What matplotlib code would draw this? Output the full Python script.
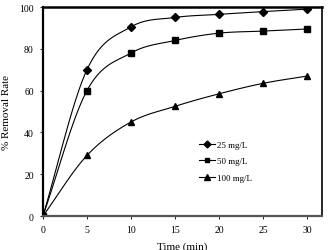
import numpy as np
import matplotlib.pyplot as plt

plt.rcParams['font.family'] = ['Liberation Serif', 'DejaVu Serif']

time_min = [0, 5, 10, 15, 20, 25, 30]
rate_25 = [0, 70, 90.5, 95, 96.5, 97.8, 99]
rate_50 = [0, 60, 78, 84, 87.5, 88.5, 89.5]
rate_100 = [0, 29, 45, 52.5, 58.5, 63.5, 67]
labels = ['25 mg/L', '50 mg/L', '100 mg/L']
markers = ['D', 's', '^']
msizes = [4.5, 4.5, 5]


def smooth(x, y, n=20):
    # catmull-rom style curve through the points (like excel smoothed line)
    x = np.asarray(x, float)
    y = np.asarray(y, float)
    px = np.concatenate([[2 * x[0] - x[1]], x, [2 * x[-1] - x[-2]]])
    py = np.concatenate([[2 * y[0] - y[1]], y, [2 * y[-1] - y[-2]]])
    xs, ys = [], []
    t = np.linspace(0, 1, n)
    for i in range(1, len(px) - 2):
        for p, out in ((px, xs), (py, ys)):
            p0, p1, p2, p3 = p[i - 1], p[i], p[i + 1], p[i + 2]
            out.extend(0.5 * ((2 * p1) + (-p0 + p2) * t
                              + (2 * p0 - 5 * p1 + 4 * p2 - p3) * t ** 2
                              + (-p0 + 3 * p1 - 3 * p2 + p3) * t ** 3))
    return xs, ys


fig = plt.figure(figsize=(3.3, 2.51), dpi=100)
ax = fig.add_axes([0.130, 0.135, 0.846, 0.833])

for ys, lab, m, ms in zip([rate_25, rate_50, rate_100], labels, markers, msizes):
    sx, sy = smooth(time_min, ys)
    ax.plot(sx, sy, color='black', lw=0.8)
    ax.plot(time_min, ys, ls='none', marker=m, ms=ms, color='black')
    ax.plot([], [], color='black', lw=0.8, marker=m, ms=ms - 1, label=lab)

ax.set_xlim(0, 31.7)
ax.set_ylim(0, 100)
ax.set_xticks([0, 5, 10, 15, 20, 25, 30])
ax.set_yticks([0, 20, 40, 60, 80, 100])
ax.tick_params(labelsize=7, length=2.5, width=0.6, direction='out', pad=4)
ax.spines['left'].set_linewidth(1.6)
ax.spines['bottom'].set_linewidth(1.6)
ax.spines['bottom'].set_color('#555555')
ax.spines['top'].set_linewidth(1.8)
ax.spines['right'].set_linewidth(1.2)
ax.set_xlabel('Time (min)', fontsize=8, labelpad=5)
ax.set_ylabel('% Removal Rate', fontsize=8, labelpad=6)

ax.legend(loc='upper left', bbox_to_anchor=(0.53, 0.4), frameon=False,
          fontsize=6.5, handlelength=1.8, handletextpad=0.2, labelspacing=0.9)

fig.savefig('out.png', dpi=100)
